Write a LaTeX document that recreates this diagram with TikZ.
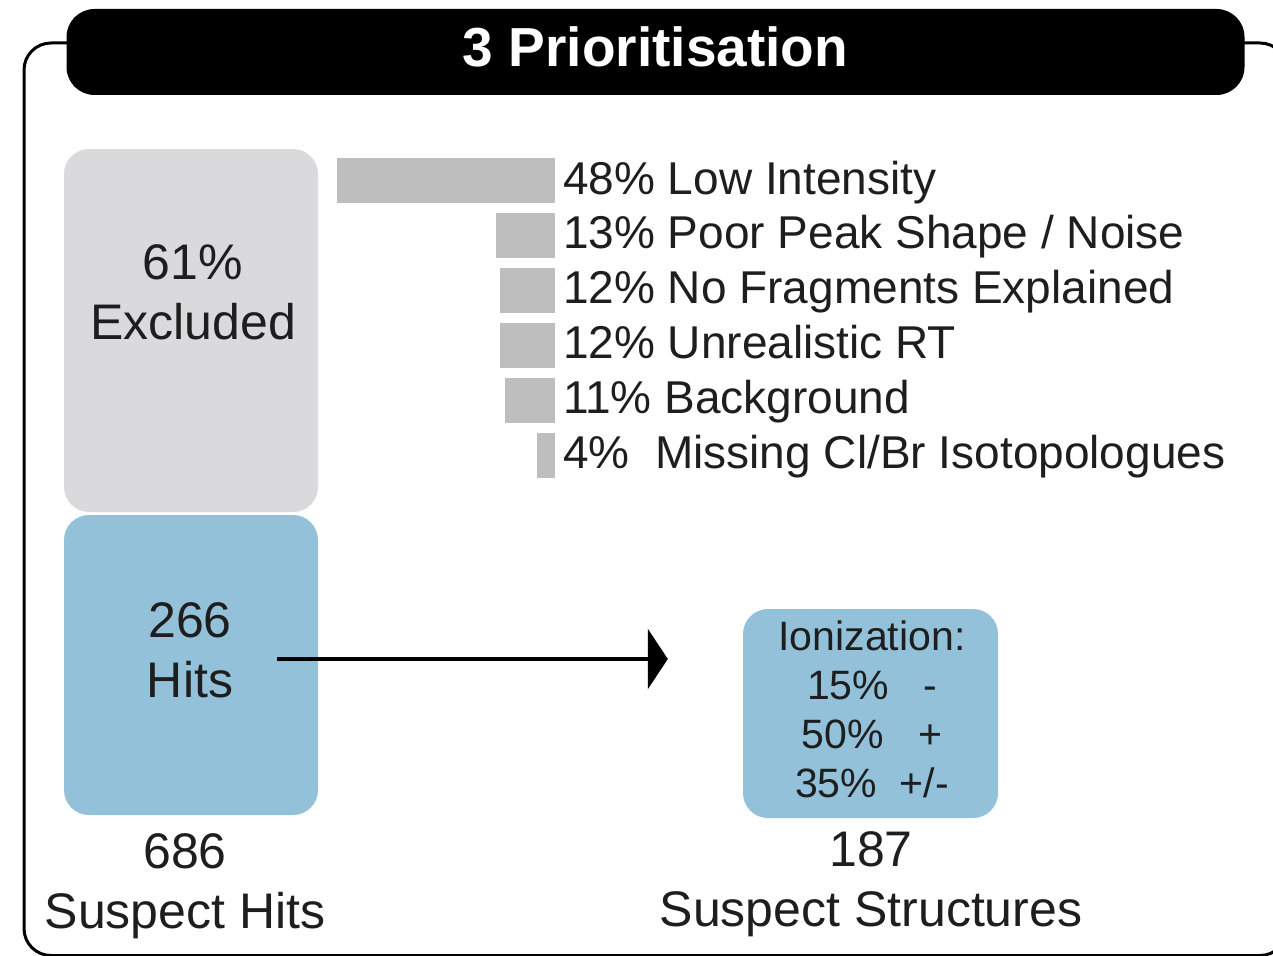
\documentclass[tikz,border=0pt]{standalone}
\usepackage{fontspec}
\setmainfont{Liberation Sans}
\usepackage{xcolor}
\usepackage{tikz}
\usetikzlibrary{arrows.meta, positioning, calc}

\definecolor{exclgray}{RGB}{218,218,221}
\definecolor{hitblue}{RGB}{147,193,217}
\definecolor{bargray}{RGB}{190,190,190}
\definecolor{inkgray}{RGB}{30,30,30}

\begin{document}
\begin{tikzpicture}[
    x=1pt, y=-1pt,
    % Styles
    panel/.style={rectangle, rounded corners=27pt, draw=black, line width=3pt},
    titlebar/.style={rectangle, rounded corners=28pt, fill=black, text=white, minimum width=1178pt, minimum height=86pt, text height=39pt, text depth=10pt, inner sep=0pt, font=\fontsize{55}{66}\selectfont\bfseries},
    block/.style={rectangle, rounded corners=25pt, minimum width=254pt, inner sep=0pt},
    bigtext/.style={align=center, text=inkgray, inner sep=0pt, font=\fontsize{50}{60}\selectfont},
    iontext/.style={align=center, text=inkgray, inner sep=0pt, font=\fontsize{41}{49}\selectfont},
    bar/.style={rectangle, fill=bargray, minimum height=45pt, inner sep=0pt, anchor=east},
    barlabel/.style={anchor=west, inner sep=0pt, text=inkgray, text height=33pt, text depth=0pt, font=\fontsize{46}{55}\selectfont},
    flow/.style={-{Triangle[length=20pt, width=60pt]}, line width=3.2pt}
]
    \useasboundingbox (0,0) rectangle (1273,955);

    % Frame and title
    \draw[panel] (24,43) rectangle (1287,955.5);
    \node[titlebar] (title) at (655.5,52) {3 Prioritisation};

    % Suspect hits column
    \node[block, fill=exclgray, minimum height=363pt] (excluded) at (191,330.5) {};
    \node[block, fill=hitblue, minimum height=300pt] (hits) at (191,665) {};
    \node[bigtext] (excltxt) at (193,292) {61\%\\Excluded};
    \node[bigtext] (hitstxt) at (190,650) {266\\Hits};
    \node[bigtext] (suspecthits) at (185,886) {686\\Suspect Hits};

    % Exclusion reasons
    \foreach \pct/\txt [count=\i] in {48/{\ Low Intensity}, 13/{\ Poor Peak Shape / Noise}, 12/{\ No Fragments Explained}, 12/{\ Unrealistic RT}, 11/{\ Background}, 4/{\ \ Missing Cl/Br Isotopologues}}{
        \pgfmathsetmacro\ypos{180.5+54.9*(\i-1)}
        \node[bar, minimum width=4.54*\pct pt] (bar\i) at (555,\ypos) {};
        \node[barlabel, right=8pt of bar\i, yshift=3pt] (lbl\i) {\pct\%\txt};
    }

    % Suspect structures
    \node[block, fill=hitblue, minimum width=255pt, minimum height=209pt] (ionbox) at (870.5,713.5) {};
    \node[iontext] (iontxt) at (872,709) {Ionization:\\15\%\ \ \ -\\50\%\ \ \ +\\35\%\ \ +/-};
    \node[bigtext] (structures) at (871,884) {187\\Suspect Structures};

    % Arrow
    \coordinate (arrowstart) at (277,659);
    \draw[flow, shorten >=75pt] (arrowstart) -- (arrowstart -| ionbox.west);
\end{tikzpicture}
\end{document}
